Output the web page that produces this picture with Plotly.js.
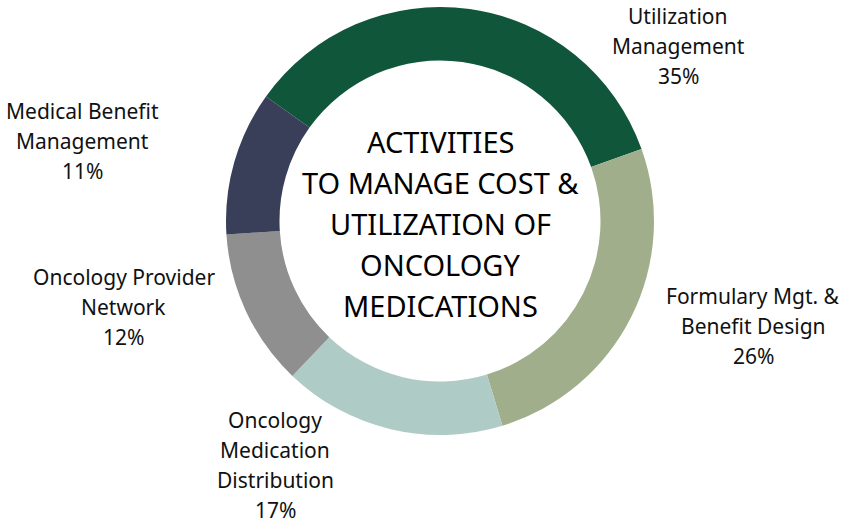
<!DOCTYPE html>
<html>
<head>
<meta charset="utf-8">
<script src="https://cdn.plot.ly/plotly-3.0.1.min.js"></script>
<style>html,body{margin:0;padding:0;background:#fff;}#chart{width:846px;height:526px;}</style>
</head>
<body>
<div id="chart"></div>
<script>
// ---- data ----
const categories = ["Utilization\nManagement", "Formulary Mgt. &\nBenefit Design", "Oncology\nMedication\nDistribution", "Oncology Provider\nNetwork", "Medical Benefit\nManagement"];
const shares = [35, 26, 17, 12, 11];
const sliceColors = ["#10563b", "#a1ae8b", "#afcbc6", "#8f8f8f", "#3a3f59"];
const centerTitle = ["ACTIVITIES", "TO MANAGE COST &", "UTILIZATION OF", "ONCOLOGY", "MEDICATIONS"];

// ---- layout helpers (label anchor positions in pixels, top line centre) ----
const W = 846, H = 526;
const labelAnchors = [[678, 16], [753, 296], [275, 420], [124, 277], [82, 111]];
const labelLineGap = 30;
const FONT = "Noto Sans, sans-serif";

const annotations = [];
categories.forEach((cat, i) => {
  const lines = cat.split("\n").concat([shares[i] + "%"]);
  lines.forEach((ln, k) => {
    annotations.push({
      xref: "paper", yref: "paper",
      x: labelAnchors[i][0] / W, y: 1 - labelAnchors[i][1] / H,
      yshift: -k * labelLineGap,
      text: ln, showarrow: false, xanchor: "center", yanchor: "middle",
      font: {family: FONT, size: 21, color: "#111"}
    });
  });
});
const centerY = 223, centerGap = 41;
centerTitle.forEach((ln, k) => {
  annotations.push({
    xref: "paper", yref: "paper",
    x: 440 / W, y: 1 - centerY / H,
    yshift: (2 - k) * centerGap,
    text: ln, showarrow: false, xanchor: "center", yanchor: "middle",
    font: {family: FONT, size: 29, color: "#000"}
  });
});

const trace = {
  type: "pie",
  values: shares,
  labels: categories.map(c => c.replace(/\n/g, " ")),
  hole: 0.75,
  sort: false,
  direction: "clockwise",
  rotation: -54.4,
  textinfo: "none",
  marker: {colors: sliceColors, line: {width: 0}},
  domain: {x: [226 / W, 654 / W], y: [1 - 435 / H, 1 - 7 / H]},
  hoverinfo: "label+percent"
};

Plotly.newPlot("chart", [trace], {
  width: W, height: H,
  margin: {l: 0, r: 0, t: 0, b: 0},
  showlegend: false,
  paper_bgcolor: "#fff",
  annotations: annotations
}, {displayModeBar: false, staticPlot: true});
</script>
</body>
</html>
